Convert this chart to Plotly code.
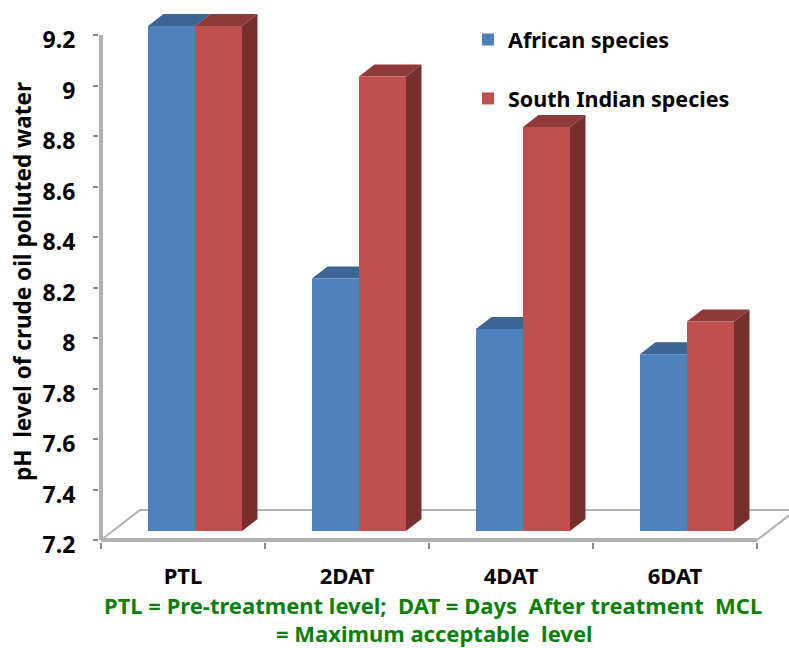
import plotly.graph_objects as go

# chart data
categories = ['PTL', '2DAT', '4DAT', '6DAT']
african = [9.2, 8.2, 8.0, 7.9]
south_indian = [9.2, 9.0, 8.8, 8.03]
y_ticks = [7.2, 7.4, 7.6, 7.8, 8, 8.2, 8.4, 8.6, 8.8, 9, 9.2]
y_labels = ['7.2', '7.4', '7.6', '7.8', '8', '8.2', '8.4', '8.6', '8.8', '9', '9.2']

BLUE, BLUE_TOP = '#4f81bd', '#3c6494'
RED, RED_TOP, RED_SIDE = '#c0504d', '#8e3a38', '#772f2e'
GRAY = '#b2b2b2'
FONT = 'Noto Sans'
GREEN = '#0a7f0a'

# 3D look, in axis units
Y_BASE = 7.2
X_UNIT = 164.0     # px per category
Y_UNIT = 252.5     # px per pH unit
BAR_W = 47 / X_UNIT
SHIFT_X = 12 / X_UNIT
LIFT = 9 / Y_UNIT
DX = 15.5 / X_UNIT
DY = 12 / Y_UNIT
FLOOR_DX = 39 / X_UNIT
FLOOR_DY = 30 / Y_UNIT

# plot area runs past the axes so the 3D parts are not clipped
x_range = [-2 / X_UNIT, 688 / X_UNIT]
y_range = [Y_BASE - 2 / Y_UNIT, 9.2 + 30 / Y_UNIT]


def poly(xs, ys, color):
    return go.Scatter(x=xs, y=ys, mode='lines', fill='toself', fillcolor=color,
                      line=dict(width=0, color=color), hoverinfo='skip',
                      showlegend=False)


def edge(xs, ys, width):
    return go.Scatter(x=xs, y=ys, mode='lines', line=dict(color=GRAY, width=width),
                      hoverinfo='skip', showlegend=False)


fig = go.Figure()

# floor outline and axis lines
fig.add_trace(edge([0, FLOOR_DX, 4 + FLOOR_DX, 4],
                   [Y_BASE, Y_BASE + FLOOR_DY, Y_BASE + FLOOR_DY, Y_BASE], 2))
fig.add_trace(edge([0, 0], [Y_BASE, 9.2], 4))
fig.add_trace(edge([0, 4], [Y_BASE, Y_BASE], 4))

# top and side faces behind the front bars
centres = [i + 0.5 + SHIFT_X for i in range(len(categories))]
for c, a, s in zip(centres, african, south_indian):
    a_top = a + LIFT
    s_top = s + LIFT
    fig.add_trace(poly([c - BAR_W, c, c + DX, c - BAR_W + DX, c - BAR_W],
                       [a_top, a_top, a_top + DY, a_top + DY, a_top], BLUE_TOP))
    fig.add_trace(poly([c, c + BAR_W, c + BAR_W + DX, c + DX, c],
                       [s_top, s_top, s_top + DY, s_top + DY, s_top], RED_TOP))
    fig.add_trace(poly([c + BAR_W, c + BAR_W + DX, c + BAR_W + DX, c + BAR_W, c + BAR_W],
                       [s_top, s_top + DY, Y_BASE + LIFT + DY, Y_BASE + LIFT, s_top], RED_SIDE))

# front faces sit on an overlaid axis pair so they cover the floor and faces
fig.add_trace(go.Bar(
    x=centres, y=[v - Y_BASE for v in african], base=Y_BASE + LIFT,
    width=BAR_W, offset=-BAR_W, marker=dict(color=BLUE, line=dict(width=0)),
    name='African species', legendgroup='a', xaxis='x2', yaxis='y2'))
fig.add_trace(go.Bar(
    x=centres, y=[v - Y_BASE for v in south_indian], base=Y_BASE + LIFT,
    width=BAR_W, offset=0, marker=dict(color=RED, line=dict(width=0)),
    name='South Indian species', legendgroup='b', xaxis='x2', yaxis='y2'))

fig.update_layout(
    width=789, height=648,
    margin=dict(l=99, r=0, t=5, b=106, autoexpand=False),
    paper_bgcolor='white', plot_bgcolor='white',
    barmode='overlay',
    font=dict(family=FONT, color='black'),
    xaxis=dict(
        range=x_range, showgrid=False, zeroline=False, showline=False,
        tickvals=[i + 0.5 for i in range(len(categories))], ticktext=categories,
        ticks='outside', ticklen=15, tickcolor='rgba(0,0,0,0)',
        tickfont=dict(size=22, family=FONT, color='black', weight='bold'),
        minor=dict(tickvals=[0, 1, 2, 3, 4], ticks='outside', ticklen=6,
                   tickcolor='#8c8c8c', tickwidth=1.5),
    ),
    yaxis=dict(
        range=y_range, showgrid=False, zeroline=False, showline=False,
        tickvals=y_ticks, ticktext=y_labels,
        ticks='outside', ticklen=5, tickcolor='#8c8c8c', tickwidth=1.5,
        ticklabelstandoff=13, ticklabelshift=5,
        tickfont=dict(size=23, family=FONT, color='black', weight='bold'),
    ),
    xaxis2=dict(range=x_range, overlaying='x', visible=False),
    yaxis2=dict(range=y_range, overlaying='y', visible=False),
    legend=dict(
        x=468 / 789, y=1 - 19 / 648, xref='container', yref='container',
        xanchor='left', yanchor='top',
        tracegroupgap=28, itemwidth=30, bgcolor='rgba(0,0,0,0)',
        font=dict(size=21.5, family=FONT, color='black', weight='bold'),
    ),
    annotations=[
        dict(text='pH  level of crude oil polluted water', textangle=-90,
             xref='paper', yref='paper', x=0, y=0.5, xshift=-77, yshift=-8.5,
             xanchor='center', yanchor='middle', showarrow=False,
             font=dict(size=22.5, family=FONT, color='black', weight='bold')),
        dict(text='PTL = Pre-treatment level;  DAT = Days  After treatment  MCL',
             xref='paper', yref='paper', x=0, y=0, xshift=334, yshift=-63,
             xanchor='center', yanchor='middle', showarrow=False,
             font=dict(size=22, family=FONT, color=GREEN, weight='bold')),
        dict(text='= Maximum acceptable  level',
             xref='paper', yref='paper', x=0, y=0, xshift=335, yshift=-91,
             xanchor='center', yanchor='middle', showarrow=False,
             font=dict(size=22, family=FONT, color=GREEN, weight='bold')),
    ],
)

fig.write_html("out.html", config={'displayModeBar': False},
               post_script="document.body.style.margin='0';")
